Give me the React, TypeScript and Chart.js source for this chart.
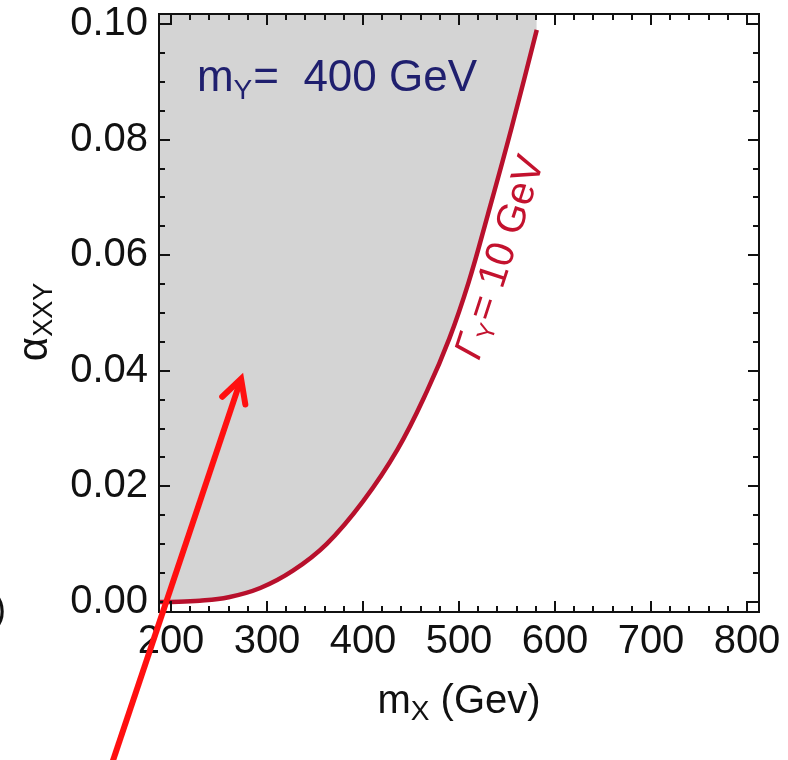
import React, { useEffect, useRef } from "react";
import { Chart, registerables } from "chart.js";

Chart.register(...registerables);

// ---- data ----
const massX = [187.5, 200, 230, 260, 293, 327, 362, 400, 436, 467, 490, 510, 530, 555, 581];
const alphaXXY = [0, 0, 0.0002, 0.0008, 0.0024, 0.0054, 0.01, 0.0174, 0.0264, 0.0366, 0.0456, 0.0553, 0.067, 0.0822, 0.099];

const xTickValues = [200, 300, 400, 500, 600, 700, 800];
const xTickLabels = ["200", "300", "400", "500", "600", "700", "800"];
const yTickValues = [0, 0.02, 0.04, 0.06, 0.08, 0.1];
const yTickLabels = ["0.00", "0.02", "0.04", "0.06", "0.08", "0.10"];
const xMinorStep = 20;
const yMinorStep = 0.005;

const X_MIN = 187.5;
const X_MAX = 812.5;
const Y_MIN = -0.00175;
const Y_MAX = 0.10175;

const FONT = "'Liberation Sans', Arial, sans-serif";

// annotation anchors (data coordinates)
const massLabelPos = { x: 227, y: 0.0884 };
const widthLabelPos = { x: 541, y: 0.0597 };
const arrowTip = { x: 273, y: 0.0386 };
const arrowTail = { x: 131, y: -0.0317 };

const decorPlugin = {
  id: "decor",
  beforeDraw(chart: any) {
    const ctx = chart.ctx;
    ctx.save();
    ctx.fillStyle = "#ffffff";
    ctx.fillRect(0, 0, chart.width, chart.height);
    ctx.restore();
  },
  afterDraw(chart: any) {
    const ctx: CanvasRenderingContext2D = chart.ctx;
    const { left, right, top, bottom } = chart.chartArea;
    const xs = chart.scales.x;
    const ys = chart.scales.y;
    ctx.save();

    // frame
    ctx.strokeStyle = "#111111";
    ctx.lineWidth = 2;
    ctx.strokeRect(left, top, right - left, bottom - top);

    // ticks on four sides, inward
    ctx.lineWidth = 2;
    ctx.beginPath();
    const majX = new Set(xTickValues);
    for (let v = 200; v <= X_MAX; v += xMinorStep) {
      const p = Math.round(xs.getPixelForValue(v));
      const len = majX.has(v) ? 11 : 6;
      ctx.moveTo(p, bottom);
      ctx.lineTo(p, bottom - len);
      ctx.moveTo(p, top);
      ctx.lineTo(p, top + len);
    }
    for (let i = 0; i * yMinorStep <= Y_MAX + 1e-9; i++) {
      const v = i * yMinorStep;
      const p = Math.round(ys.getPixelForValue(v));
      const len = i % 4 === 0 ? 11 : 6;
      ctx.moveTo(left, p);
      ctx.lineTo(left + len, p);
      ctx.moveTo(right, p);
      ctx.lineTo(right - len, p);
    }
    ctx.stroke();

    // m_Y = 400 GeV
    {
      const x0 = xs.getPixelForValue(massLabelPos.x);
      const y0 = ys.getPixelForValue(massLabelPos.y);
      ctx.fillStyle = "#1f1f6e";
      ctx.textAlign = "left";
      ctx.textBaseline = "alphabetic";
      ctx.font = `44px ${FONT}`;
      let x = x0;
      ctx.fillText("m", x, y0);
      x += ctx.measureText("m").width;
      ctx.font = `28px ${FONT}`;
      ctx.fillText("Y", x, y0 + 8);
      x += ctx.measureText("Y").width + 1;
      ctx.font = `44px ${FONT}`;
      ctx.fillText("=  400 GeV", x, y0);
    }

    // Γ_Y = 10 GeV rotated along the curve
    {
      const cx = xs.getPixelForValue(widthLabelPos.x);
      const cy = ys.getPixelForValue(widthLabelPos.y);
      ctx.save();
      ctx.translate(cx, cy);
      ctx.rotate((-72 * Math.PI) / 180);
      ctx.fillStyle = "#c3122e";
      ctx.textBaseline = "alphabetic";
      ctx.textAlign = "left";
      const main = `italic 40px ${FONT}`;
      const sub = `24px ${FONT}`;
      ctx.font = main;
      const w1 = ctx.measureText("Γ").width;
      ctx.font = `40px ${FONT}`;
      const w3 = ctx.measureText("= 10 GeV").width;
      ctx.font = sub;
      const w2 = ctx.measureText("Y").width;
      const total = w1 + w2 + w3 + 2;
      let x = -total / 2;
      const base = 14;
      ctx.font = main;
      ctx.fillText("Γ", x, base);
      x += w1;
      ctx.font = sub;
      ctx.fillText("Y", x, base + 6);
      x += w2 + 2;
      ctx.font = `40px ${FONT}`;
      ctx.fillText("= 10 GeV", x, base);
      ctx.restore();
    }

    // x-axis title: m_X (Gev)
    {
      const cx = (left + right) / 2;
      const base = bottom + 101;
      ctx.fillStyle = "#111111";
      ctx.textBaseline = "alphabetic";
      ctx.textAlign = "left";
      ctx.font = `40px ${FONT}`;
      const wm = ctx.measureText("m").width;
      const wr = ctx.measureText(" (Gev)").width;
      ctx.font = `28px ${FONT}`;
      const ws = ctx.measureText("X").width;
      let x = cx - (wm + ws + wr) / 2;
      ctx.font = `40px ${FONT}`;
      ctx.fillText("m", x, base);
      x += wm;
      ctx.font = `28px ${FONT}`;
      ctx.fillText("X", x, base + 7);
      x += ws;
      ctx.font = `40px ${FONT}`;
      ctx.fillText(" (Gev)", x, base);
    }

    // y-axis title: α_XXY
    {
      const cy = (top + bottom) / 2 + 9;
      const bx = 47;
      ctx.save();
      ctx.translate(bx, cy);
      ctx.rotate(-Math.PI / 2);
      ctx.fillStyle = "#111111";
      ctx.textBaseline = "alphabetic";
      ctx.textAlign = "left";
      ctx.font = `42px ${FONT}`;
      const wa = ctx.measureText("α").width;
      ctx.font = `27px ${FONT}`;
      const ws = ctx.measureText("XXY").width;
      let x = -(wa + ws) / 2;
      ctx.font = `42px ${FONT}`;
      ctx.fillText("α", x, 0);
      x += wa;
      ctx.font = `27px ${FONT}`;
      ctx.fillText("XXY", x, 5);
      ctx.restore();
    }

    // fragment of a parenthesis at the far left
    ctx.fillStyle = "#111111";
    ctx.font = `36px ${FONT}`;
    ctx.textAlign = "left";
    ctx.fillText(")", -6, 621);

    // red arrow
    {
      const tx = xs.getPixelForValue(arrowTip.x);
      const ty = ys.getPixelForValue(arrowTip.y);
      const sx = xs.getPixelForValue(arrowTail.x);
      const sy = ys.getPixelForValue(arrowTail.y);
      ctx.strokeStyle = "#ff1010";
      ctx.lineWidth = 6;
      ctx.lineCap = "butt";
      ctx.beginPath();
      ctx.moveTo(sx, sy);
      ctx.lineTo(tx, ty);
      ctx.stroke();
      const ang = Math.atan2(sy - ty, sx - tx);
      const wl = 26;
      const spread = (28 * Math.PI) / 180;
      ctx.lineCap = "round";
      ctx.beginPath();
      ctx.moveTo(tx + wl * Math.cos(ang + spread), ty + wl * Math.sin(ang + spread));
      ctx.lineTo(tx, ty);
      ctx.lineTo(tx + wl * Math.cos(ang - spread), ty + wl * Math.sin(ang - spread));
      ctx.stroke();
    }

    ctx.restore();
  },
};

export default function App() {
  const ref = useRef<HTMLCanvasElement | null>(null);

  useEffect(() => {
    if (!ref.current) return;
    const chart = new Chart(ref.current, {
      type: "line",
      data: {
        datasets: [
          {
            label: "Γ_Y = 10 GeV",
            data: massX.map((x, i) => ({ x, y: alphaXXY[i] })),
            borderColor: "#b8102c",
            borderWidth: 4.5,
            backgroundColor: "#d4d4d4",
            fill: "end",
            pointRadius: 0,
            tension: 0.4,
          },
        ],
      },
      options: {
        animation: false,
        responsive: true,
        maintainAspectRatio: false,
        layout: { padding: { left: 0, right: 29, top: 14, bottom: 0 } },
        plugins: {
          legend: { display: false },
          tooltip: { enabled: false },
          title: { display: false },
        },
        scales: {
          x: {
            type: "linear",
            min: X_MIN,
            max: X_MAX,
            grid: { display: false, drawTicks: false },
            border: { display: false },
            afterBuildTicks: (scale: any) => {
              scale.ticks = xTickValues.map((v) => ({ value: v }));
            },
            afterFit: (scale: any) => {
              scale.height = 148;
              scale.paddingLeft = 0;
              scale.paddingRight = 0;
            },
            ticks: {
              autoSkip: false,
              maxRotation: 0,
              padding: 6,
              color: "#111111",
              font: { family: FONT, size: 40 },
              callback: (v: any) => {
                const i = xTickValues.indexOf(Number(v));
                return i >= 0 ? xTickLabels[i] : "";
              },
            },
          },
          y: {
            type: "linear",
            min: Y_MIN,
            max: Y_MAX,
            grid: { display: false, drawTicks: false },
            border: { display: false },
            afterBuildTicks: (scale: any) => {
              scale.ticks = yTickValues.map((v) => ({ value: v }));
            },
            afterFit: (scale: any) => {
              scale.width = 159;
              scale.paddingTop = 0;
              scale.paddingBottom = 0;
            },
            ticks: {
              autoSkip: false,
              padding: 11,
              color: "#111111",
              font: { family: FONT, size: 40 },
              callback: (v: any) => {
                const i = yTickValues.findIndex((t) => Math.abs(t - Number(v)) < 1e-9);
                return i >= 0 ? yTickLabels[i] : "";
              },
            },
          },
        },
      },
      plugins: [decorPlugin],
    });
    return () => chart.destroy();
  }, []);

  return (
    <div style={{ position: "fixed", left: 0, top: 0, width: 788, height: 760, background: "#fff" }}>
      <canvas ref={ref} />
    </div>
  );
}
